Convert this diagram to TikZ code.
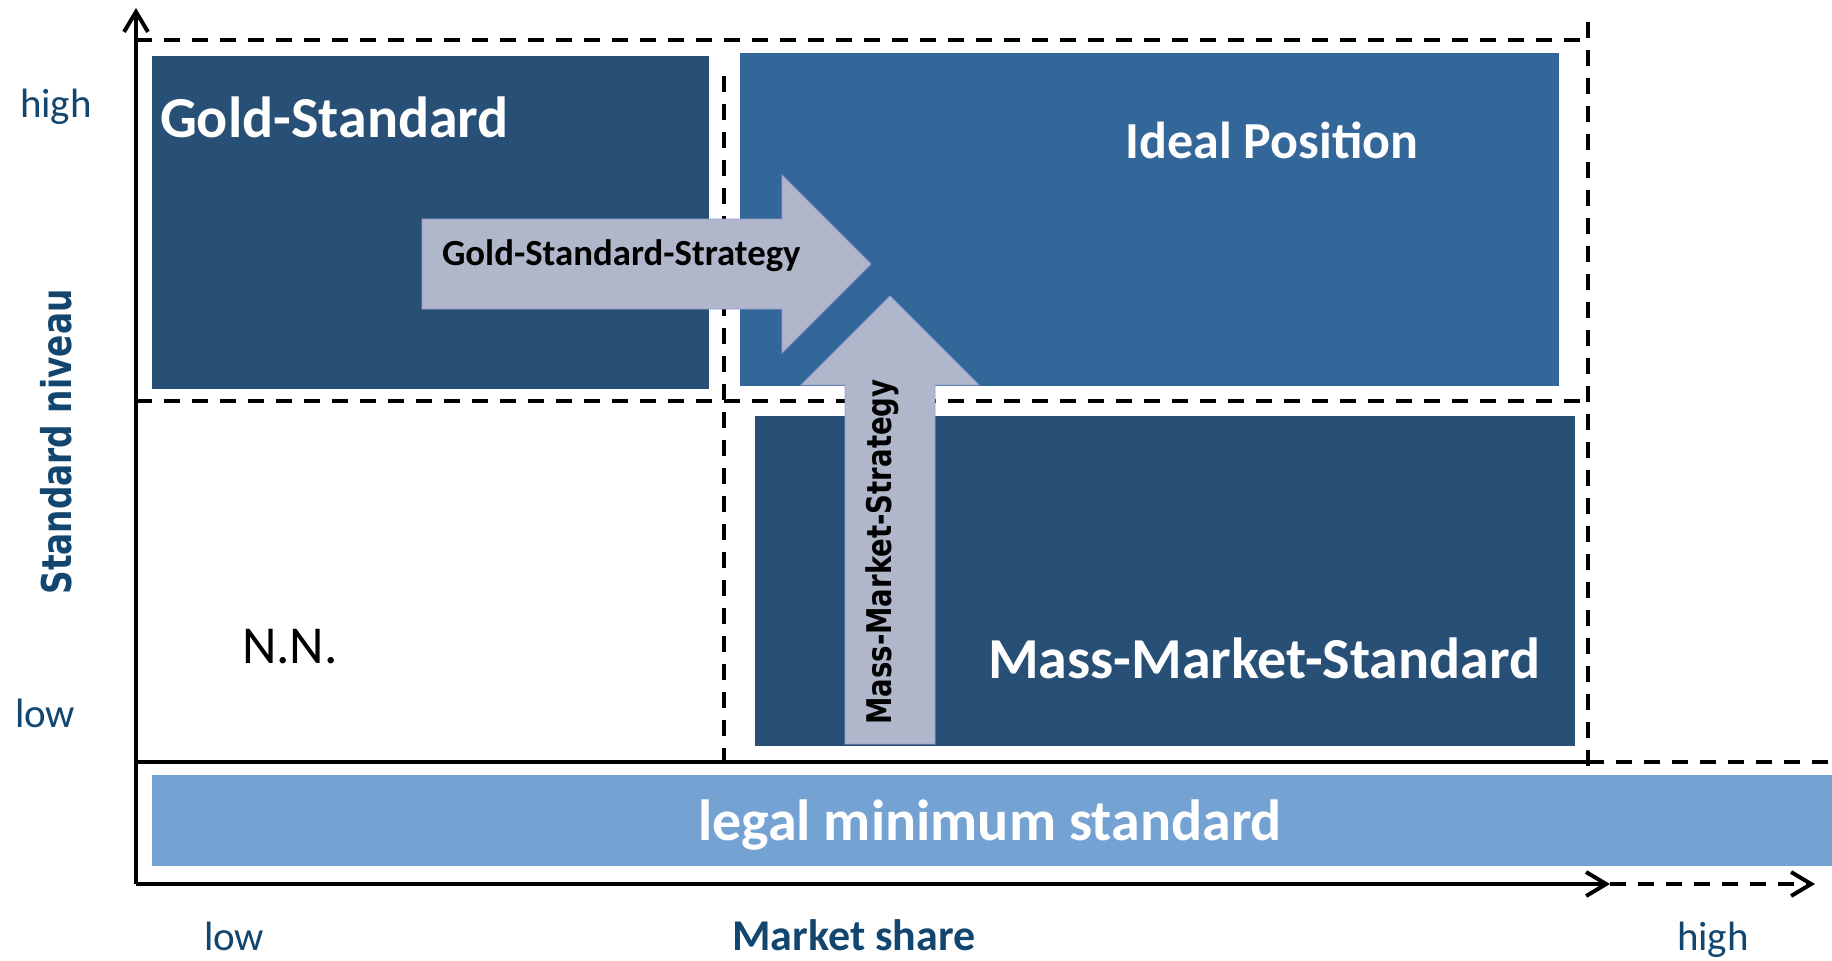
\documentclass[tikz,border=0pt]{standalone}
\usepackage{fontspec}
\usepackage{graphicx}
\setmainfont{Carlito}
\newfontfamily\verdfont{DejaVu Sans}
\usetikzlibrary{arrows.meta}

\definecolor{navy}{HTML}{284F75}
\definecolor{steel}{HTML}{346799}
\definecolor{sky}{HTML}{74A3D3}
\definecolor{arrowgrey}{HTML}{B0B7CB}
\definecolor{axisblue}{HTML}{12466F}

\newcommand\setfs[1]{\fontsize{#1}{#1}\selectfont}

\begin{document}
\begin{tikzpicture}[x=0.5pt,y=-0.5pt,
  barb/.style={-{Straight Barb[length=10pt,width=12pt,line width=2pt]}},
  axisline/.style={line width=2pt},
  grid/.style={line width=1.75pt, dash pattern=on 8pt off 6pt},
  lbl/.style={inner sep=0pt, outer sep=0pt},
  strat/.style={fill=arrowgrey, draw=arrowgrey!85!blue, line width=0.4pt}
]
\useasboundingbox (0,0) rectangle (1832,960);

% axis corners and ends
\coordinate (O) at (136,884);
\coordinate (ytip) at (136,8);
\coordinate (xend) at (1610,884);
\coordinate (xtip) at (1815,884);

% quadrant grid
\coordinate (tl) at (136,40);
\coordinate (tr) at (1588,40);
\coordinate (rtop) at (1588,22);
\coordinate (rbot) at (1588,775);
\coordinate (ml) at (136,401);
\coordinate (mr) at (1588,401);
\coordinate (vtop) at (724,76);
\coordinate (vbot) at (724,762);
\coordinate (bl) at (136,762);
\coordinate (br) at (1588,762);
\coordinate (bx) at (1832,762);

\draw[grid] (tl) -- (tr);
\draw[grid] (rtop) -- (rbot);
\draw[grid] (ml) -- (mr);
\draw[grid] (vtop) -- (vbot);
\draw[axisline] (bl) -- (br);
\draw[grid] (br) -- (bx);

% coloured fields
\fill[navy] (152,56) rectangle (709,389);
\fill[steel] (740,53) rectangle (1559,386);
\fill[navy] (755,416) rectangle (1575,746);
\fill[sky] (152,775) rectangle (1832,866);

% axes
\draw[axisline,barb] (O) -- (ytip);
\draw[axisline,barb] (O) -- (xend);
\draw[grid,barb] (xend) -- (xtip);

% strategy arrows
\path[strat] (422,219) -- (782,219) -- (782,175) -- (871,264) -- (782,353) -- (782,309) -- (422,309) -- cycle;
\path[strat] (845,744) -- (845,385) -- (801,385) -- (890,296) -- (979,385) -- (935,385) -- (935,744) -- cycle;

% field labels
\node[lbl, anchor=base west, text=white, font={\bfseries\setfs{29}}] (gold) at (160,137) {Gold-Standard};
\node[lbl, anchor=base, text=white, font={\bfseries\setfs{26}}] (ideal) at (1272,158) {Ideal Position};
\node[lbl, anchor=base west, text=white, font={\bfseries\setfs{29}}] (mass) at (988,678) {Mass-Market-Standard};
\node[lbl, anchor=base, text=white, font={\bfseries\setfs{29}}] (legal) at (990,840) {legal minimum standard};
\node[lbl, anchor=base west, font={\setfs{26.7}}] (nn) at (242,663) {N.N.};

% strategy labels
\node[lbl, anchor=base west, font={\bfseries\setfs{18.4}}] (gss) at (442,265) {Gold-Standard-Strategy};
\node[lbl, anchor=base, rotate=90, font={\verdfont\bfseries\setfs{17}}] (mms) at (891,552) {\scalebox{0.81}[1]{Mass-Market-Strategy}};

% axis labels
\node[lbl, anchor=base, rotate=90, text=axisblue, font={\verdfont\bfseries\setfs{20.5}}] (ylab) at (71,442) {\scalebox{0.8}[1]{Standard niveau}};
\node[lbl, anchor=base west, text=axisblue, font={\setfs{20.5}}] (yhigh) at (20,117) {high};
\node[lbl, anchor=base west, text=axisblue, font={\setfs{20.5}}] (ylow) at (15,727) {low};
\node[lbl, anchor=base, text=axisblue, font={\bfseries\setfs{22}}] (xlab) at (854,950) {Market share};
\node[lbl, anchor=base west, text=axisblue, font={\setfs{20.5}}] (xlow) at (204,950) {low};
\node[lbl, anchor=base west, text=axisblue, font={\setfs{20.5}}] (xhigh) at (1677,950) {high};
\end{tikzpicture}
\end{document}
